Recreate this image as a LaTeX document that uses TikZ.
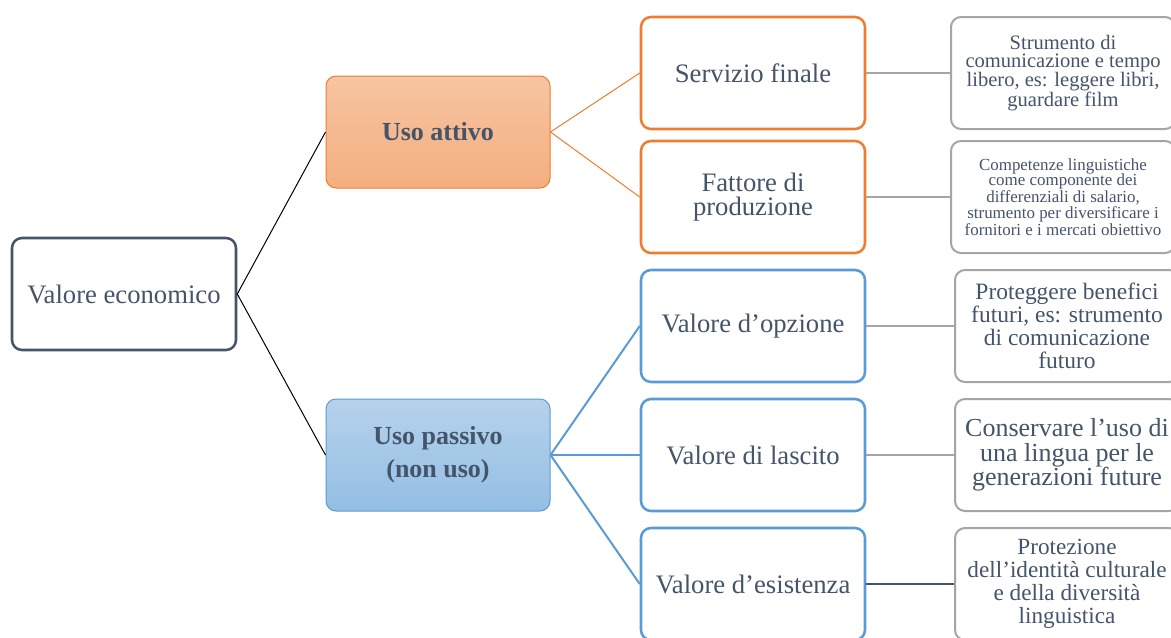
\documentclass[tikz,border=0pt]{standalone}
\usepackage{fontspec}
\setmainfont{Liberation Serif}
\definecolor{txt}{HTML}{44546A}
\definecolor{arancio}{HTML}{ED7D31}
\definecolor{blu}{HTML}{5B9BD5}
\definecolor{grigio}{HTML}{A5A5A5}
\begin{document}
\begin{tikzpicture}[x=0.75pt,y=-0.75pt,
  box/.style={rectangle, rounded corners=7.5pt, minimum width=168pt, minimum height=84pt,
    inner sep=2pt, align=center, text=txt, fill=white, font=\fontsize{20}{18.5}\selectfont},
  radice/.style={box, draw=txt, line width=1.9pt},
  attivo/.style={box, draw=arancio, line width=0.75pt, top color=arancio!45!white, bottom color=arancio!62!white,
    font=\fontsize{19.5}{25}\selectfont\bfseries},
  passivo/.style={box, draw=blu, line width=0.75pt, top color=blu!45!white, bottom color=blu!65!white,
    font=\fontsize{19.5}{25}\selectfont\bfseries},
  figlioA/.style={box, draw=arancio, line width=1.9pt},
  figlioB/.style={box, draw=blu, line width=1.9pt},
  nota/.style={box, draw=grigio, line width=1.5pt}]
\useasboundingbox (0,0) rectangle (1171,637);
\clip (0,0) rectangle (1171,637);
\node[radice] (val) at (124,294){Valore economico};
\node[attivo] (att) at (438,132){Uso attivo};
\node[passivo] (pas) at (438,455){Uso passivo\\(non uso)};
\draw[line width=0.75pt](val.east) -- (att.west);
\draw[line width=0.75pt](val.east) -- (pas.west);
\node[figlioA] (serv) at (753,73){Servizio finale};
\node[figlioA] (fatt) at (753,197){Fattore di\\produzione};
\draw[arancio, line width=0.75pt](att.east) -- (serv.west);
\draw[arancio, line width=0.75pt](att.east) -- (fatt.west);
\node[figlioB] (opz) at (753,326){Valore d’opzione};
\node[figlioB] (lasc) at (753,455){Valore di lascito};
\node[figlioB] (esis) at (753,584){Valore d’esistenza};
\draw[blu, line width=1.5pt](pas.east) -- (opz.west);
\draw[blu, line width=1.5pt](pas.east) -- (lasc.west);
\draw[blu, line width=1.5pt](pas.east) -- (esis.west);
\node[nota, font=\fontsize{15.4}{14}\selectfont] (nserv) at (1063,73){Strumento di\\comunicazione e tempo\\libero, es: leggere libri,\\guardare film};
\draw[grigio, line width=1.9pt](serv.east) -- (nserv.west);
\node[nota, font=\fontsize{12.7}{11.6}\selectfont] (nfatt) at (1063,197){Competenze linguistiche\\come componente dei\\differenziali di salario,\\strumento per diversificare i\\fornitori e i mercati obiettivo};
\draw[grigio, line width=1.9pt](fatt.east) -- (nfatt.west);
\node[nota, font=\fontsize{17.6}{17.2}\selectfont] (nopz) at (1067,326){Proteggere benefici\\futuri, es: strumento\\di comunicazione\\futuro};
\draw[grigio, line width=1.9pt](opz.east) -- (nopz.west);
\node[nota, font=\fontsize{19.5}{18.5}\selectfont] (nlasc) at (1067,455){Conservare l’uso di\\una lingua per le\\generazioni future};
\draw[grigio, line width=1.9pt](lasc.east) -- (nlasc.west);
\node[nota, font=\fontsize{17.4}{17.2}\selectfont] (nesis) at (1067,584){Protezione\\dell’identità culturale\\e della diversità\\linguistica};
\draw[txt, line width=1.5pt](esis.east) -- (nesis.west);
\end{tikzpicture}
\end{document}
